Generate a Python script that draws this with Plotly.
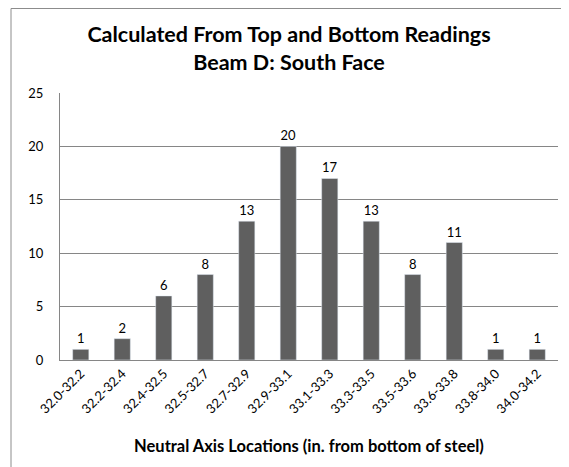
import plotly.graph_objects as go

categories = ["32.0-32.2", "32.2-32.4", "32.4-32.5", "32.5-32.7", "32.7-32.9", "32.9-33.1",
              "33.1-33.3", "33.3-33.5", "33.5-33.6", "33.6-33.8", "33.8-34.0", "34.0-34.2"]
counts = [1, 2, 6, 8, 13, 20, 17, 13, 8, 11, 1, 1]
y_ticks = [0, 5, 10, 15, 20, 25]

# page body has an 8px margin, so figure is sized/positioned to compensate
OFF = 8
W, H = 569 - OFF, 467 - OFF
ml, mr, mt, mb = 60 - OFF, 11, 93 - OFF, 107
pw, ph = W - ml - mr, H - mt - mb
bx = (11 - OFF - ml) / pw
by = 1 + (mt - 0.5) / ph
bxr = (W - ml) / pw

font_family = "Lato, Open Sans, sans-serif"

fig = go.Figure(go.Bar(
    x=categories, y=counts, marker_color="#5f5f5f",
    text=[str(c) for c in counts], textposition="outside",
    textfont=dict(size=13, color="#000000"), cliponaxis=False,
))

fig.update_layout(
    width=W, height=H,
    margin=dict(l=ml, r=mr, t=mt, b=mb),
    paper_bgcolor="white", plot_bgcolor="white",
    bargap=0.61,
    font=dict(family=font_family, color="#000000"),
    title=dict(text="<b>Calculated From Top and Bottom Readings<br>Beam D: South Face</b>",
               x=(289 - OFF) / W, xanchor="center", y=1 - 34 / H, yanchor="top",
               font=dict(size=21.5, family=font_family)),
    showlegend=False,
    shapes=[
        dict(type="line", xref="paper", yref="paper", x0=bx, x1=bx, y0=-0.6, y1=by,
             line=dict(color="#8c8c8c", width=1)),
        dict(type="line", xref="paper", yref="paper", x0=bx, x1=bxr, y0=by, y1=by,
             line=dict(color="#8c8c8c", width=1)),
    ],
)
fig.update_xaxes(tickangle=-45, tickfont=dict(size=13), showline=True, linecolor="#868686",
                 ticks="", automargin=False,
                 title=dict(text="<b>Neutral Axis Locations (in. from bottom of steel)</b>",
                            font=dict(size=16.5), standoff=24))
fig.update_yaxes(range=[0, 25], tickvals=y_ticks, tickfont=dict(size=13), showgrid=True,
                 gridcolor="#868686", showline=True, linecolor="#868686", zeroline=False,
                 ticks="", automargin=False, ticklabelstandoff=13)

fig.write_html("out.html")
